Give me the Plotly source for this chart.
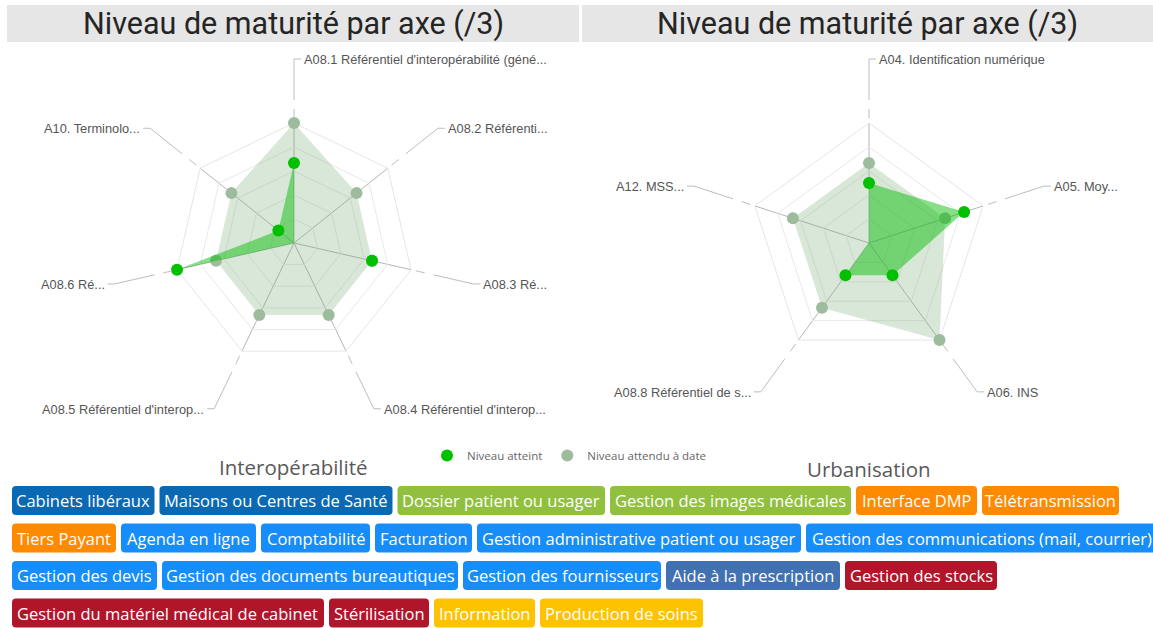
import math
import plotly.graph_objects as go

W, H = 1153, 628

# ---------------- data ----------------
title_text = "Niveau de maturité par axe (/3)"
series_names = ["Niveau atteint", "Niveau attendu à date"]
panel_names = ["Interopérabilité", "Urbanisation"]

interop_axes = [
    "A08.1 Référentiel d'interopérabilité (géné...",
    "A08.2 Référenti...",
    "A08.3 Ré...",
    "A08.4 Référentiel d'interop...",
    "A08.5 Référentiel d'interop...",
    "A08.6 Ré...",
    "A10. Terminolo...",
]
interop_atteint = [2, 0, 2, 0, 0, 3, 0.5]
interop_attendu = [3, 2, 2, 2, 2, 2, 2]

urba_axes = [
    "A04. Identification numérique",
    "A05. Moy...",
    "A06. INS",
    "A08.8 Référentiel de s...",
    "A12. MSS...",
]
urba_atteint = [1.5, 2.5, 1, 1, 0]
urba_attendu = [2, 2, 3, 2, 2]

r_max = 3
r_grid = [0.6, 1.2, 1.8, 2.4]

tag_labels = [
    "Cabinets libéraux", "Maisons ou Centres de Santé", "Dossier patient ou usager",
    "Gestion des images médicales", "Interface DMP", "Télétransmission",
    "Tiers Payant", "Agenda en ligne", "Comptabilité", "Facturation",
    "Gestion administrative patient ou usager", "Gestion des communications (mail, courrier)",
    "Gestion des devis", "Gestion des documents bureautiques", "Gestion des fournisseurs",
    "Aide à la prescription", "Gestion des stocks",
    "Gestion du matériel médical de cabinet", "Stérilisation", "Information", "Production de soins",
]
tag_groups = [
    "structure", "structure", "dossier", "dossier", "teleservice", "teleservice",
    "teleservice", "gestion", "gestion", "gestion", "gestion", "gestion",
    "gestion", "gestion", "gestion", "prescription", "logistique",
    "logistique", "logistique", "info", "info",
]

# ---------------- styles / layout ----------------
GROUP_COLORS = {
    "structure": "#0b69b3",
    "dossier": "#90c03e",
    "teleservice": "#fe8a00",
    "gestion": "#168df8",
    "prescription": "#4271b1",
    "logistique": "#b1152a",
    "info": "#fdc300",
}
TAG_WIDTHS = [142.5, 233, 207.5, 241, 121, 137,
              104, 135, 109, 97, 324, 352,
              145, 296, 198, 174, 152,
              312, 100, 101, 163]
TAG_X0, TAG_GAP, TAG_ROW_Y0, TAG_ROW_STEP, TAG_H, TAG_WRAP = 12, 5, 500.5, 37.5, 29, 1165

COL_ACH = "#00c000"
COL_ACH_FILL = "rgba(0,190,0,0.47)"
COL_EXP = "#9dbc9d"
COL_EXP_FILL = "rgba(120,170,120,0.28)"
LEADER = "#bdbdbd"

R_PX = 120
panels = [
    dict(cx=294, cy=243, axes=interop_axes, ach=interop_atteint, exp=interop_attendu, sub="polar"),
    dict(cx=869, cy=243, axes=urba_axes, ach=urba_atteint, exp=urba_attendu, sub="polar2"),
]


def px(x):
    return x / W


def py(y):
    return 1 - y / H


fig = go.Figure()
shapes, annotations = [], []

for k, p in enumerate(panels):
    th = p["axes"] + [p["axes"][0]]
    fig.add_trace(go.Scatterpolar(r=p["exp"] + [p["exp"][0]], theta=th, mode="lines", fill="toself",
                                  fillcolor=COL_EXP_FILL, line=dict(width=0, color=COL_EXP),
                                  hoverinfo="skip", showlegend=False, subplot=p["sub"]))
    fig.add_trace(go.Scatterpolar(r=p["exp"], theta=p["axes"], mode="markers", name=series_names[1],
                                  marker=dict(size=12, color=COL_EXP), legendrank=2, cliponaxis=False,
                                  showlegend=(k == 0), subplot=p["sub"]))
    fig.add_trace(go.Scatterpolar(r=p["ach"] + [p["ach"][0]], theta=th, mode="lines", fill="toself",
                                  fillcolor=COL_ACH_FILL, line=dict(width=0, color=COL_ACH),
                                  hoverinfo="skip", showlegend=False, subplot=p["sub"]))
    fig.add_trace(go.Scatterpolar(r=p["ach"], theta=p["axes"], mode="markers", name=series_names[0],
                                  marker=dict(size=12, color=COL_ACH), legendrank=1, cliponaxis=False,
                                  showlegend=(k == 0), subplot=p["sub"]))

    # leader lines and labels
    n = len(p["axes"])
    for i, lab in enumerate(p["axes"]):
        a = math.radians(i * 360 / n)
        sx, sy = math.sin(a), -math.cos(a)

        def pt(d):
            return p["cx"] + d * sx, p["cy"] + d * sy

        for d0, d1 in [(125, 134), (143, 184)]:
            x0, y0 = pt(d0)
            x1, y1 = pt(d1)
            shapes.append(dict(type="line", xref="paper", yref="paper", x0=px(x0), y0=py(y0),
                               x1=px(x1), y1=py(y1), line=dict(color=LEADER, width=1)))
        ex, ey = pt(184)
        side = 1 if sx >= -1e-9 else -1
        hx = ex + side * 7
        shapes.append(dict(type="line", xref="paper", yref="paper", x0=px(ex), y0=py(ey),
                           x1=px(hx), y1=py(ey), line=dict(color=LEADER, width=1)))
        annotations.append(dict(x=px(hx + side * 2), y=py(ey + 0.5), xref="paper", yref="paper",
                                text=lab, showarrow=False, xanchor="left" if side > 0 else "right",
                                yanchor="middle", borderpad=0,
                                font=dict(family="Liberation Sans, Arial", size=12.8, color="#555555")))

# title bars
for (x0, x1) in [(7, 579), (582, 1153)]:
    shapes.append(dict(type="rect", xref="paper", yref="paper", x0=px(x0), x1=px(x1), y0=py(42), y1=py(5),
                       fillcolor="#e6e6e6", line=dict(width=0), layer="below"))
    annotations.append(dict(x=px((x0 + x1) / 2), y=py(24), xref="paper", yref="paper", text=title_text,
                            showarrow=False, xanchor="center", yanchor="middle",
                            font=dict(family="Roboto", size=30.5, color="#252525")))

# panel subtitles
for name, cx, cy in [(panel_names[0], 293, 467), (panel_names[1], 869, 469)]:
    annotations.append(dict(x=px(cx), y=py(cy), xref="paper", yref="paper", text=name, showarrow=False,
                            xanchor="center", yanchor="middle",
                            font=dict(family="Open Sans", size=20.5, color="#595959")))

# tags (flow layout)
x, row = TAG_X0, 0
for lab, grp, w in zip(tag_labels, tag_groups, TAG_WIDTHS):
    if x + w > TAG_WRAP:
        x, row = TAG_X0, row + 1
    yc = TAG_ROW_Y0 + row * TAG_ROW_STEP
    y0, y1 = yc - TAG_H / 2, yc + TAG_H / 2
    x0, x1 = x, x + w
    r = 4
    pts = [("M", x0 + r, y0), ("L", x1 - r, y0), ("Q", x1, y0, x1, y0 + r), ("L", x1, y1 - r),
           ("Q", x1, y1, x1 - r, y1), ("L", x0 + r, y1), ("Q", x0, y1, x0, y1 - r), ("L", x0, y0 + r),
           ("Q", x0, y0, x0 + r, y0)]
    path = ""
    for seg in pts:
        cmd, coords = seg[0], seg[1:]
        cs = []
        for j in range(0, len(coords), 2):
            cs.append(f"{px(coords[j]):.6f},{py(coords[j + 1]):.6f}")
        path += cmd + " " + " ".join(cs) + " "
    path += "Z"
    shapes.append(dict(type="path", xref="paper", yref="paper", path=path,
                       fillcolor=GROUP_COLORS[grp], line=dict(width=0), layer="below"))
    annotations.append(dict(x=px((x0 + x1) / 2), y=py(yc), xref="paper", yref="paper", text=lab,
                            showarrow=False, xanchor="center", yanchor="middle",
                            font=dict(family="Open Sans", size=16.5, color="white")))
    x = x1 + TAG_GAP


def polar_layout(cx, cy):
    return dict(
        domain=dict(x=[px(cx - R_PX), px(cx + R_PX)], y=[py(cy + R_PX), py(cy - R_PX)]),
        gridshape="linear",
        bgcolor="rgba(0,0,0,0)",
        radialaxis=dict(range=[0, r_max], tickvals=r_grid, showticklabels=False, ticks="",
                        showline=False, gridcolor="#e9e9e9", gridwidth=1, layer="below traces"),
        angularaxis=dict(direction="clockwise", rotation=90, showticklabels=False, ticks="",
                         showline=True, linecolor="#e6e6e6", linewidth=1, layer="below traces",
                         gridcolor="#b5b5b5", gridwidth=1),
    )


fig.update_layout(
    width=W, height=H,
    margin=dict(l=0, r=0, t=0, b=0),
    paper_bgcolor="white", plot_bgcolor="white",
    polar=polar_layout(panels[0]["cx"], panels[0]["cy"]),
    polar2=polar_layout(panels[1]["cx"], panels[1]["cy"]),
    shapes=shapes, annotations=annotations,
    showlegend=True,
    legend=dict(orientation="h", x=px(427), y=py(441), xanchor="left", yanchor="top",
                font=dict(family="Open Sans", size=11.5, color="#666666"),
                bgcolor="rgba(0,0,0,0)", itemsizing="trace"),
)

fig.write_html("out.html", config={"displayModeBar": False},
               post_script="document.body.style.margin='0';document.body.style.overflow='hidden';")
